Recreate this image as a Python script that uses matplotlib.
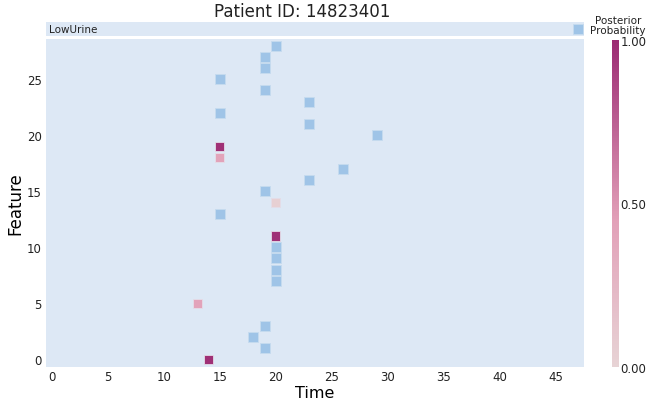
import matplotlib.pyplot as plt
from matplotlib.colors import LinearSegmentedColormap
import numpy as np

patient_id = "14823401"
strip_label = "LowUrine"
strip_time = [47]

# observed features (blue squares)
obs_time = [20, 19, 19, 15, 19, 23, 15, 23, 29, 26, 23, 19, 15, 20, 20, 20, 20, 19, 18, 19]
obs_feat = [28, 27, 26, 25, 24, 23, 22, 21, 20, 17, 16, 15, 13, 10, 9, 8, 7, 3, 2, 1]

# posterior probability squares
post_time = [15, 15, 20, 20, 13, 14]
post_feat = [19, 18, 14, 11, 5, 0]
post_prob = [0.97, 0.42, 0.03, 0.97, 0.42, 0.97]

x_ticks = [0, 5, 10, 15, 20, 25, 30, 35, 40, 45]
y_ticks = [0, 5, 10, 15, 20, 25]
cbar_ticks = [0.0, 0.5, 1.0]

bg = "#dde8f5"
blue = "#9fc4e7"
cmap = LinearSegmentedColormap.from_list(
    "post", [(0.0, "#e7d3d5"), (0.45, "#e2a0b8"), (1.0, "#9b2a73")])

W, H = 648, 402
fig = plt.figure(figsize=(W / 100, H / 100), dpi=100)

def box(x0, y0, x1, y1):
    return [x0 / W, 1 - y1 / H, (x1 - x0) / W, (y1 - y0) / H]

ax = fig.add_axes(box(46, 40, 584, 368))
ax.set_facecolor(bg)
ax.scatter(obs_time, obs_feat, marker="s", s=44, c=blue,
           edgecolors="#c6dbef", linewidths=0.6, zorder=3)
sc = ax.scatter(post_time, post_feat, marker="s", s=44, c=post_prob, cmap=cmap,
                vmin=0, vmax=1, edgecolors="#e4dde8", linewidths=0.6, zorder=3)
ax.set_xlim(-0.5, 47.5)
ax.set_ylim(-0.7, 28.6)
ax.set_xticks(x_ticks)
ax.set_yticks(y_ticks)
ax.tick_params(length=0, labelsize=8.5, colors="#222222", pad=3)
ax.tick_params(axis="x", pad=2)
for s in ax.spines.values():
    s.set_visible(False)
ax.set_xlabel("Time", fontsize=11.5, va="center")
ax.xaxis.set_label_coords(0.5, -(394 - 368) / 328)
ax.set_ylabel("Feature", fontsize=12, va="center")
ax.yaxis.set_label_coords(-(46 - 15) / 538, 0.5)

# top strip
ax2 = fig.add_axes(box(46, 23, 584, 37))
ax2.set_facecolor(bg)
ax2.scatter(strip_time, [0] * len(strip_time), marker="s", s=44, c=blue,
            edgecolors="#c6dbef", linewidths=0.6)
ax2.set_xlim(-0.5, 47.5)
ax2.set_ylim(-0.6, 0.6)
ax2.set_xticks([])
ax2.set_yticks([])
for s in ax2.spines.values():
    s.set_visible(False)
ax2.text(0.005, 0.5, strip_label, transform=ax2.transAxes, fontsize=7.5,
         va="center", ha="left", color="#222222")

fig.text(302 / W, 1 - 12 / H, "Patient ID: " + patient_id, fontsize=12,
         ha="center", va="center", color="#222222")

# colorbar
cax = fig.add_axes(box(612, 41, 619, 368))
cb = fig.colorbar(sc, cax=cax, ticks=cbar_ticks)
cb.outline.set_visible(False)
cb.ax.set_yticklabels(["%.2f" % t for t in cbar_ticks])
cb.ax.tick_params(length=0, labelsize=8.5, pad=1, colors="#222222")
fig.text(618 / W, 1 - 26 / H, "Posterior\nProbability", fontsize=7.5,
         ha="center", va="center", linespacing=0.95, color="#222222")

fig.savefig("out.png", dpi=100)
